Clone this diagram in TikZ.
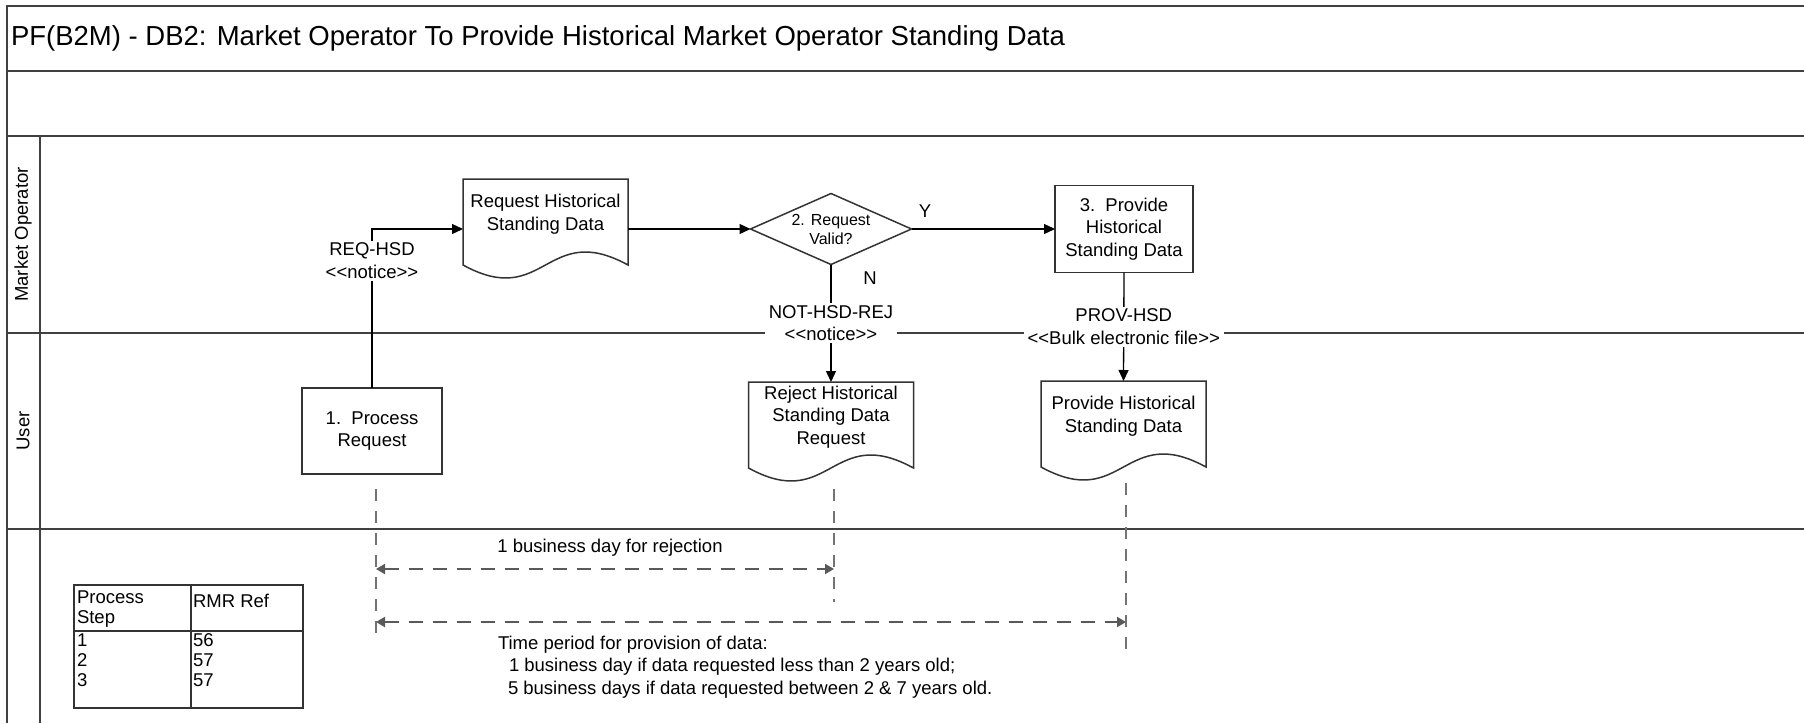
\documentclass[tikz,border=0pt]{standalone}
\usepackage{fontspec}
\setmainfont{Liberation Sans}
\usetikzlibrary{shapes.geometric,arrows.meta,positioning}

\newcommand{\stereo}[1]{<\kern0pt<#1>\kern0pt>}
% document symbol: box with a wavy lower edge
\newcommand{\docoutline}[1]{%
  \draw[docline] (#1.north west) -- (#1.north east) -- ++(0,86)
    .. controls +(-82,-45) and +(82,45) .. ++(-165,0) -- cycle;}

\begin{document}
\begin{tikzpicture}[x=1pt,y=-1pt,inner sep=0pt,outer sep=0pt,
  font=\fontsize{18.5}{22.5}\selectfont,
  lane/.style={draw=black!75,line width=2.5pt},
  procbox/.style={draw=black!80,line width=1.5pt,rectangle,minimum width=140pt,minimum height=86pt,align=center},
  docbox/.style={rectangle,minimum width=165pt,minimum height=70pt,align=center},
  docline/.style={draw=black!80,line width=1.5pt},
  decision/.style={draw=black!80,line width=1.5pt,diamond,aspect=2.3,inner sep=-3pt,minimum width=161pt,minimum height=71pt,align=center,font=\fontsize{16}{19}\selectfont},
  flow/.style={line width=1.3pt,-{Triangle[length=11pt,width=10pt]}},
  msg/.style={fill=white,align=center,inner xsep=4pt,inner ysep=2pt},
  tick/.style={draw=black!55,line width=1.3pt,dash pattern=on 12pt off 10pt},
  span/.style={draw=black!65,line width=2pt,dash pattern=on 14pt off 10pt,{Triangle[length=9pt,width=10pt]}-{Triangle[length=9pt,width=10pt]}},
  tableline/.style={draw=black!80,line width=1.5pt}]
\useasboundingbox (0,0) rectangle (1804,723);

% swimlanes
\draw[lane] (7,723) -- (7,6) -- (1804,6);
\foreach \y in {71,136,333,529}
  \draw[lane] (7,\y) -- (1804,\y);
\draw[lane] (40,136) -- (40,723);
\node[anchor=west,font=\fontsize{27.5}{33}\selectfont] (title) at (11,38.5) {PF(B2M) - DB2: Market Operator To Provide Historical Market Operator Standing Data};
\node[rotate=90] (lanemo) at (23,234.5) {Market Operator};
\node[rotate=90] (laneuser) at (23,431) {User};

% process
\node[procbox] (proc) at (372,431) {1.\ \ Process\\Request};
\node[docbox] (req) at (545.5,214) {Request Historical\\Standing Data};
\docoutline{req}
\node[decision] (valid) at (831,229) {2. Request\\Valid?};
\node[procbox,minimum width=138pt,minimum height=87pt] (prov) at (1124,229) {3.\ \ Provide\\Historical\\Standing Data};
\node[docbox] (rej) at (831,417) {Reject Historical\\Standing Data\\Request};
\docoutline{rej}
\node[docbox] (give) at (1123.5,416) {Provide Historical\\Standing Data};
\docoutline{give}

\draw[flow] (proc.north) -- node[msg,pos=0.8] (reqhsd) {REQ-HSD\\\stereo{notice}} (proc.north |- valid) -- (req.west |- valid);
\draw[flow] (req.east |- valid) -- (valid.west);
\draw[flow] (valid.east) -- (prov.west);
\node (yes) at (925,211) {Y};
\draw[flow] (valid.south) -- node[msg] (rejmsg) {NOT-HSD-REJ\\\stereo{notice}} (rej.north);
\node (no) at (870,278) {N};
\draw[flow] (prov.south) -- node[msg] (provmsg) {PROV-HSD\\\stereo{Bulk electronic file}} (give.north);

% timings
\coordinate (t1) at (376,489);
\coordinate (t2) at (834,489);
\coordinate (t3) at (1126,483);
\draw[tick] (t1) -- ++(0,153);
\draw[tick] (t2) -- ++(0,113);
\draw[tick] (t3) -- ++(0,170);
\draw[span] (t1 |- 0,569) -- (t2 |- 0,569);
\draw[span] (t1 |- 0,622) -- (t3 |- 0,622);
\node (rejtime) at (610,548) {1 business day for rejection};
\node[anchor=west,align=left] (provtime) at (498,667) {Time period for provision of data:\\
  \hspace*{11pt}1 business day if data requested less than 2 years old;\\
  \hspace*{10pt}5 business days if data requested between 2 \& 7 years old.};

% RMR references
\node[tableline,minimum width=229pt,minimum height=123pt] (rmr) at (188.5,646.5) {};
\draw[tableline] (rmr.west |- 0,631) -- (rmr.east |- 0,631);
\draw[tableline] (191,0 |- rmr.north) -- (191,0 |- rmr.south);
\node[anchor=north west,align=left,font=\fontsize{18.5}{20}\selectfont] (stephead) at (77,591) {Process\\Step};
\node[anchor=west] (refhead) at (193,601) {RMR Ref};
\node[anchor=north west,align=left,font=\fontsize{18.5}{20}\selectfont] (steps) at (77,634) {1\\2\\3};
\node[anchor=north west,align=left,font=\fontsize{18.5}{20}\selectfont] (refs) at (193,634) {56\\57\\57};
\end{tikzpicture}
\end{document}
